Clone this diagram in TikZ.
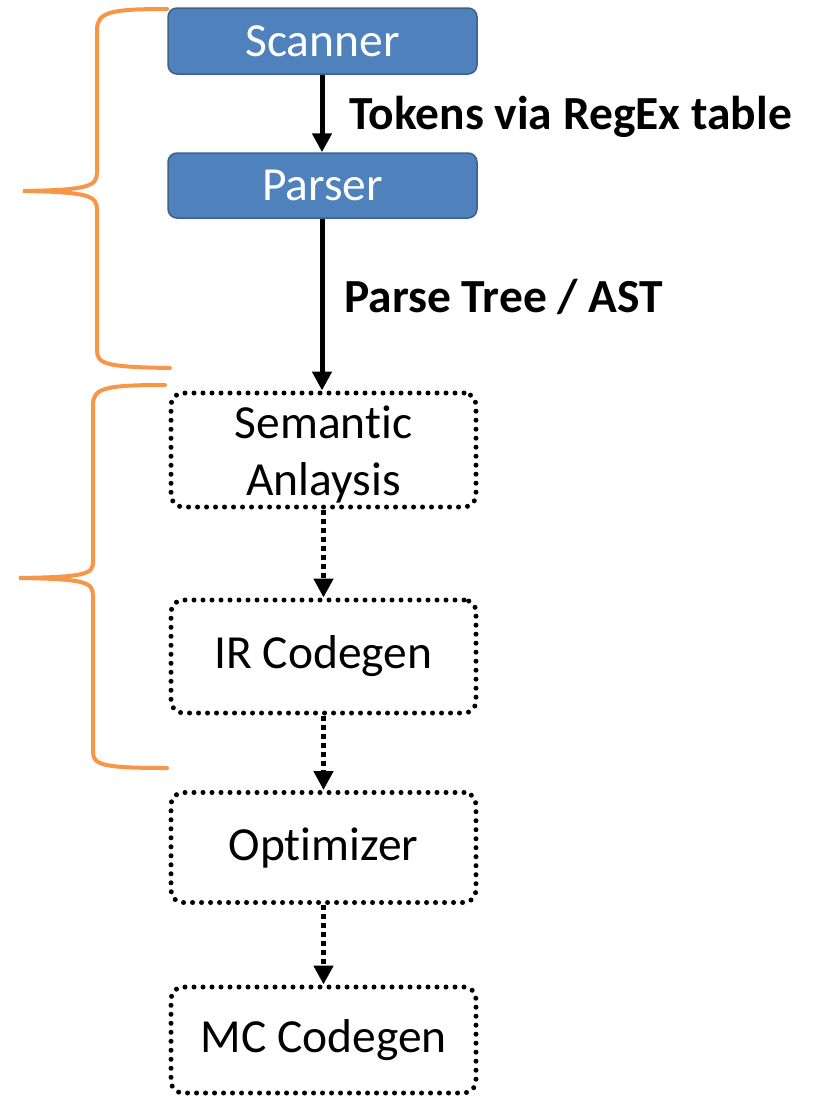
\documentclass[tikz,border=0pt]{standalone}
\usepackage{fontspec}
\setmainfont{Carlito}[Ligatures=NoCommon]
\usetikzlibrary{arrows.meta}
\definecolor{boxblue}{HTML}{4F81BD}
\definecolor{boxedge}{HTML}{3A6194}
\definecolor{braceor}{HTML}{F79646}
\tikzset{
  bluebox/.style={draw=boxedge, line width=1.5pt, fill=boxblue, rounded corners=9pt,
    minimum width=309pt, text=white, font=\fontsize{47.5}{57}\selectfont, inner sep=0pt},
  dotbox/.style={draw=black, line width=5pt, dash pattern=on 0pt off 9pt, line cap=round,
    rounded corners=12pt, minimum width=305pt, align=center,
    font=\fontsize{47.5}{57}\selectfont, inner sep=0pt},
  solidarr/.style={line width=5pt, -{Triangle[width=19pt,length=19pt]}},
  dotarr/.style={line width=5pt, dash pattern=on 5pt off 4pt, -{Triangle[width=19pt,length=19pt]}},
  edgelabel/.style={font=\bfseries\fontsize{47.5}{57}\selectfont, inner sep=0pt, anchor=west},
  bracestyle/.style={draw=braceor, line width=4pt, line cap=round}
}
\begin{document}
\begin{tikzpicture}[x=1pt,y=-1pt]
\useasboundingbox (0,0) rectangle (814,1096);
% boxes
\node[bluebox, minimum height=66pt] (scanner) at (322.5,41) {Scanner};
\node[bluebox, minimum height=65pt] (parser) at (322.5,185.5) {Parser};
\node[dotbox, minimum height=114pt] (sem) at (323.5,450) {\rule{0pt}{42pt}Semantic\\Anlaysis};
\node[dotbox, minimum height=113pt] (ir) at (323.5,656.5) {IR Codegen};
\node[dotbox, minimum height=110pt] (opt) at (323.5,847.5) {Optimizer};
\node[dotbox, minimum height=106pt] (mc) at (323.5,1040) {MC Codegen};
% connectors
\draw[solidarr] (scanner.south -| 322,0) -- (parser.north -| 322,0);
\draw[solidarr] (parser.south -| 322,0) -- (sem.north -| 322,0);
\draw[dotarr] (sem) -- (ir);
\draw[dotarr] (ir) -- (opt);
\draw[dotarr] (opt) -- (mc);
% labels
\node[edgelabel] (lbl1) at (349,117) {Tokens via RegEx table};
\node[edgelabel] (lbl2) at (344,297) {Parse Tree / AST};
% braces
\draw[bracestyle] (167,9) .. controls (110,9) and (97,12) .. (97,30)
  -- (97,172) .. controls (97,186) and (90,190) .. (23,191)
  .. controls (90,192) and (97,196) .. (97,210)
  -- (97,350) .. controls (97,364) and (105,367) .. (170,368);
\draw[bracestyle] (165,385) .. controls (105,385) and (93,388) .. (93,405)
  -- (93,562) .. controls (93,574) and (86,577) .. (19,578)
  .. controls (86,579) and (93,582) .. (93,596)
  -- (93,752) .. controls (93,765) and (103,768) .. (167,768);
\end{tikzpicture}
\end{document}
